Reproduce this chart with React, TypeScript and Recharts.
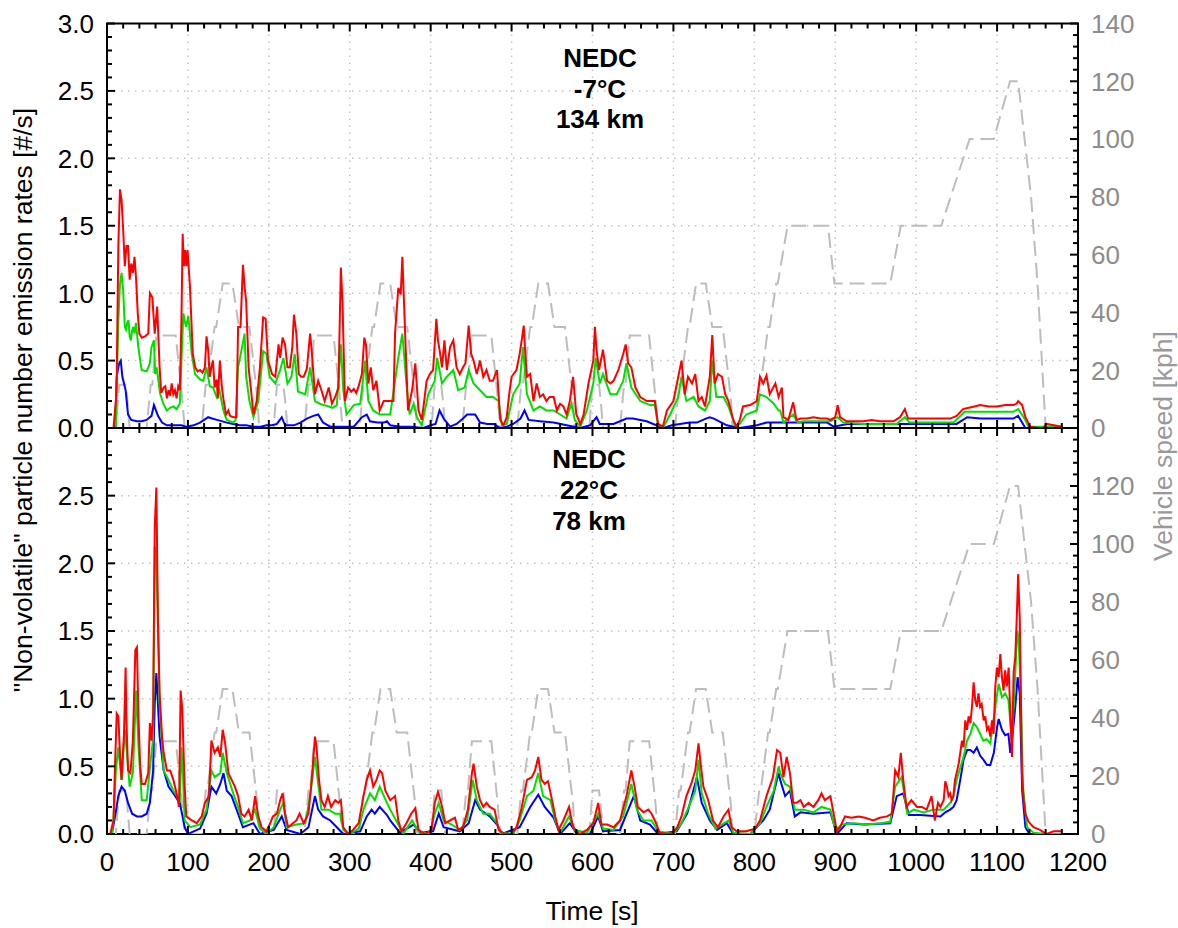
import React from 'react';
import { LineChart, Line, XAxis, YAxis, ReferenceLine, ReferenceArea } from 'recharts';

type Pt = [number, number];

// Emission rates, NEDC at -7 °C (time [s], rate [#/s])
const coldRed: Pt[] = [
  [0, 0], [8, 0], [11, 0.2], [12, 0.36], [14, 1.35], [16, 1.77], [18, 1.69], [20, 1.47], [22, 1.2], [24, 1.35],
  [26, 1.35], [28, 1.1], [30, 1.22], [32, 1.15], [34, 1.27], [36, 1.1], [38, 0.85], [40, 0.7], [43, 0.67], [47, 0.68],
  [51, 0.7], [53, 1.0], [56, 0.97], [59, 0.7], [62, 0.9], [65, 0.45], [67, 0.26], [70, 0.3], [72, 0.31], [74, 0.22],
  [76, 0.28], [78, 0.24], [80, 0.33], [82, 0.25], [84, 0.28], [86, 0.22], [88, 0.31], [90, 0.28], [92, 0.8], [93.5, 1.44],
  [95, 1.2], [96.5, 1.32], [98, 1.2], [99.5, 1.32], [102.5, 1.05], [106, 0.55], [109, 0.45], [112, 0.42], [115, 0.43], [118, 0.41],
  [121, 0.45], [123, 0.68], [125, 0.58], [127, 0.38], [129, 0.45], [131, 0.5], [133, 0.3], [135.5, 0.36], [137, 0.22], [139.5, 0.5],
  [142, 0.3], [144, 0.21], [147, 0.1], [150, 0.13], [152, 0.09], [156, 0.08], [160, 0.08], [162, 0.75],
  [165, 0.75], [168, 1.21], [170, 1.05], [172, 0.94], [175, 0.45], [178, 0.28], [181, 0.1], [185, 0.2], [189, 0.45], [193, 0.82],
  [196, 0.81], [199, 0.5], [204, 0.4], [208, 0.38], [212, 0.62], [214, 0.52], [217, 0.67], [220, 0.62], [223, 0.45], [226, 0.45],
  [229, 0.6], [231, 0.84], [234, 0.7], [237, 0.4], [240, 0.38], [243, 0.38], [247, 0.44], [251, 0.7], [253, 0.57], [257, 0.25],
  [261, 0.35], [265, 0.28], [269, 0.2], [274, 0.3], [278, 0.18], [282, 0.23], [286, 0.3], [289, 1.19], [291, 0.94], [294, 0.2],
  [298, 0.3], [302, 0.27], [305, 0.29], [308, 0.26], [311, 0.31], [315, 0.4], [318, 0.67], [320, 0.62], [323, 0.33], [326, 0.45],
  [329, 0.28], [333, 0.35], [337, 0.13], [342, 0.2], [346, 0.2], [350, 0.2], [354, 0.2], [356, 0.7], [360, 1.04], [363, 0.99],
  [365, 1.27], [367, 0.94], [370, 0.45], [372, 0.13], [377, 0.28], [381, 0.48], [385, 0.13], [389, 0.06], [392, 0.2], [395, 0.35],
  [399, 0.4], [403, 0.43], [407, 0.81], [409, 0.65], [411, 0.58], [414, 0.45], [417, 0.65], [420, 0.43], [424, 0.6], [428, 0.65],
  [432, 0.45], [436, 0.4], [440, 0.45], [443, 0.48], [447, 0.76], [450, 0.55], [453, 0.5], [457, 0.4], [461, 0.5], [465, 0.38],
  [469, 0.43], [473, 0.35], [477, 0.35], [482, 0.43], [486, 0.06], [490, 0.02], [494, 0.08], [497, 0.25], [500, 0.38], [506, 0.43],
  [510, 0.55], [513, 0.67], [515, 0.76], [517, 0.55], [519, 0.38], [523, 0.4], [527, 0.2], [531, 0.33], [535, 0.23], [539, 0.25],
  [543, 0.2], [547, 0.23], [552, 0.23], [556, 0.13], [560, 0.18], [564, 0.16], [568, 0.1], [572, 0.2], [576, 0.38], [580, 0.1],
  [585, 0.03], [589, 0.1], [595, 0.33], [601, 0.5], [603, 0.75], [605, 0.58], [608, 0.43], [613, 0.58], [618, 0.35], [622, 0.33],
  [626, 0.35], [632, 0.43], [638, 0.55], [641, 0.62], [644, 0.48], [648, 0.45], [653, 0.3], [659, 0.23], [667, 0.2], [673, 0.2],
  [677, 0.2], [681, 0.03], [687, 0.01], [692, 0.13], [700, 0.2], [706, 0.38], [710, 0.5], [714, 0.25], [718, 0.38], [723, 0.33],
  [727, 0.4], [731, 0.2], [735, 0.23], [739, 0.16], [745, 0.38], [748, 0.69], [751, 0.33], [755, 0.4], [760, 0.38], [764, 0.25],
  [768, 0.2], [774, 0.06], [778, 0.01], [782, 0.06], [786, 0.16], [795, 0.17], [803, 0.2], [807, 0.38], [811, 0.33], [815, 0.39],
  [819, 0.25], [826, 0.33], [830, 0.23], [834, 0.3], [836, 0.08], [842, 0.06], [848, 0.19], [852, 0.06], [857, 0.07], [865, 0.07],
  [873, 0.08], [882, 0.07], [890, 0.07], [894, 0.06], [900, 0.08], [903, 0.17], [906, 0.08], [914, 0.05], [925, 0.05], [935, 0.05],
  [945, 0.06], [955, 0.05], [965, 0.05], [972, 0.05], [980, 0.08], [986, 0.14], [990, 0.07], [1000, 0.07], [1010, 0.07], [1020, 0.07],
  [1030, 0.07], [1042, 0.07], [1050, 0.09], [1058, 0.14], [1065, 0.15], [1072, 0.16], [1079, 0.17], [1090, 0.16], [1100, 0.16], [1110, 0.17],
  [1120, 0.17], [1124, 0.18], [1126, 0.2], [1131, 0.17], [1135, 0.08], [1141, 0.01], [1150, 0], [1157, 0], [1161, 0.03], [1170, 0.02],
  [1180, 0.01],
];

const coldGreen: Pt[] = [
  [0, 0], [11, 0], [12, 0.3], [14, 0.8], [16, 1.07], [18, 1.15], [20, 1.02], [22, 0.75], [23.5, 0.73], [25, 0.78],
  [26.5, 0.8], [28, 0.68], [29.5, 0.65], [31, 0.72], [32.5, 0.75], [34, 0.7], [35.8, 0.78], [38.7, 0.6], [42.8, 0.43], [49, 0.42],
  [53, 0.48], [55, 0.6], [58, 0.65], [59.5, 0.4], [61.4, 0.45], [65.5, 0.26], [69.6, 0.18], [73.8, 0.13], [78, 0.15], [82, 0.16],
  [86, 0.14], [90, 0.18], [92, 0.5], [94.4, 0.85], [97.6, 0.75], [100.5, 0.83], [104.7, 0.55], [108.8, 0.4], [115, 0.36], [119, 0.35],
  [123, 0.45], [127, 0.31], [131, 0.3], [135.6, 0.23], [139, 0.28], [143.8, 0.13], [148, 0.06],
  [152, 0.05], [156, 0.04], [159, 0.06], [162, 0.45], [166, 0.57], [170, 0.7], [172, 0.38], [176, 0.2],
  [181, 0.08], [187, 0.2], [193, 0.57], [197, 0.55], [201, 0.38], [208, 0.33], [214, 0.43], [218, 0.52], [223, 0.33], [228, 0.38],
  [232, 0.55], [236, 0.27], [245, 0.25], [251, 0.45], [257, 0.2], [263, 0.18], [268, 0.17], [274, 0.16], [279, 0.15], [284, 0.17],
  [289, 0.62], [292, 0.28], [296, 0.1], [305, 0.17], [313, 0.18], [319, 0.5], [323, 0.2], [329, 0.13], [337, 0.1], [344, 0.1],
  [350, 0.1], [356, 0.35], [360, 0.52], [365, 0.7], [370, 0.33], [374, 0.1], [379, 0.18], [383, 0.08], [389, 0.02], [397, 0.25],
  [405, 0.35], [408, 0.52], [414, 0.33], [420, 0.38], [428, 0.43], [434, 0.28], [442, 0.3], [447, 0.43], [453, 0.33], [461, 0.28],
  [469, 0.23], [477, 0.23], [484, 0.2], [488, 0.02], [494, 0.03], [502, 0.25], [510, 0.33], [514, 0.6], [519, 0.25], [527, 0.13],
  [535, 0.16], [543, 0.13], [552, 0.13], [560, 0.1], [568, 0.07], [574, 0.18], [578, 0.06], [585, 0.01], [593, 0.13], [601, 0.33],
  [604, 0.52], [609, 0.33], [613, 0.4], [622, 0.25], [630, 0.25], [638, 0.35], [642, 0.48], [648, 0.3], [659, 0.2], [671, 0.17],
  [677, 0.17], [681, 0.02], [688, 0.01], [696, 0.1], [706, 0.23], [710, 0.38], [716, 0.2], [725, 0.23], [731, 0.16], [739, 0.13],
  [745, 0.2], [748, 0.5], [753, 0.23], [762, 0.23], [768, 0.16], [776, 0.02], [782, 0.03], [790, 0.1], [803, 0.13], [807, 0.25],
  [815, 0.23], [824, 0.18], [830, 0.13], [832, 0.13], [836, 0.04], [848, 0.1], [854, 0.04], [860, 0.05], [875, 0.05], [894, 0.05],
  [903, 0.08], [910, 0.04], [935, 0.03], [955, 0.03], [976, 0.03], [986, 0.08], [992, 0.04], [1010, 0.04], [1030, 0.04], [1046, 0.04],
  [1060, 0.12], [1079, 0.12], [1100, 0.12], [1120, 0.12], [1126, 0.14], [1133, 0.08], [1139, 0.01], [1160, 0.01], [1180, 0.01],
];

const coldBlue: Pt[] = [
  [0, 0], [10, 0], [12, 0.38], [15, 0.48], [17, 0.5], [19, 0.38], [23, 0.28], [26, 0.1], [30, 0.06], [37, 0.05],
  [43, 0.05], [49, 0.06], [55, 0.09], [58, 0.17], [63, 0.09], [68, 0.04], [74, 0.02], [84, 0.02], [92, 0.02], [98, 0.01],
  [107, 0.02], [115, 0.04], [120, 0.06], [125, 0.08], [130, 0.07], [136, 0.06], [148, 0.04], [156, 0.03], [164, 0.02], [172, 0.02],
  [181, 0.01], [190, 0.01], [197, 0.02], [204, 0.02], [210, 0.03], [216, 0.08], [220, 0.02], [231, 0.02], [239, 0.04], [247, 0.07],
  [255, 0.09], [261, 0.1], [267, 0.04], [276, 0.01], [288, 0.01], [305, 0.01], [315, 0.08], [321, 0.1], [325, 0.05], [334, 0.04],
  [342, 0.04], [346, 0.05], [350, 0.02], [362, 0.01], [375, 0.01], [391, 0], [400, 0.02], [406, 0.03], [411, 0.13], [416, 0.07],
  [424, 0.01], [432, 0.03], [440, 0.07], [445, 0.1], [455, 0.1], [461, 0.04], [470, 0.03], [478, 0.03], [486, 0], [494, 0.01],
  [502, 0.03], [511, 0.07], [516, 0.13], [521, 0.06], [535, 0.05], [552, 0.04], [568, 0.02], [585, 0], [597, 0.02], [605, 0.08],
  [609, 0.03], [626, 0.03], [642, 0.07], [650, 0.07], [659, 0.06], [667, 0.05], [675, 0.03], [688, 0], [698, 0.02], [708, 0.03],
  [720, 0.04], [729, 0.04], [740, 0.07], [745, 0.08], [750, 0.07], [766, 0.02], [782, 0], [803, 0.02], [815, 0.04], [832, 0.04],
  [850, 0.04], [870, 0.04], [890, 0.04], [898, 0.01], [915, 0.03], [940, 0.03], [972, 0.03], [990, 0.03], [1010, 0.03], [1030, 0.03],
  [1050, 0.03], [1063, 0.08], [1080, 0.07], [1100, 0.07], [1120, 0.07], [1126, 0.09], [1135, 0], [1180, 0],
];

// Emission rates, NEDC at 22 °C (time [s], rate [#/s])
const warmRed: Pt[] = [
  [0, 0], [4, 0], [8, 0.1], [10, 0.52], [12, 0.89], [14, 0.87], [16, 0.6], [18, 0.4], [21, 0.74], [23, 1.23],
  [24, 0.84], [26, 0.47], [29, 0.45], [32, 0.69], [35, 1.36], [37, 1.38], [39, 0.84], [41, 0.5], [43, 0.37], [47, 0.37],
  [51, 0.45], [53, 0.82], [55, 0.69], [57, 0.89], [59, 2.27], [61, 2.56], [63, 1.58], [65, 1.04], [68, 0.72], [70, 0.6],
  [74, 0.47], [78, 0.47], [82, 0.4], [86, 0.3], [89, 0.2], [91, 1.06], [93, 0.92], [96, 0.35], [98, 0.13], [105, 0.1],
  [111, 0.08], [117, 0.13], [121, 0.23], [126, 0.28], [129, 0.69], [133, 0.6], [137, 0.64], [140, 0.57], [143, 0.77], [146, 0.67],
  [150, 0.45], [154, 0.4], [158, 0.35], [162, 0.28], [166, 0.15], [170, 0.13], [175, 0.18], [179, 0.1], [183, 0.28], [187, 0.13],
  [191, 0.05], [197, 0.02], [201, 0.07], [205, 0.13], [210, 0.15], [214, 0.25], [217, 0.3], [220, 0.15], [224, 0.05], [228, 0.07],
  [234, 0.1], [238, 0.15], [243, 0.08], [249, 0.15], [253, 0.4], [257, 0.72], [259, 0.64], [262, 0.4], [265, 0.25], [269, 0.2],
  [273, 0.28], [277, 0.2], [282, 0.25], [286, 0.23], [289, 0.25], [292, 0.05], [298, 0], [304, 0.03], [311, 0.08], [317, 0.28],
  [321, 0.4], [325, 0.47], [329, 0.35], [333, 0.4], [337, 0.47], [340, 0.45], [344, 0.32], [350, 0.25], [356, 0.28], [360, 0.1],
  [364, 0.02], [370, 0.08], [376, 0.15], [381, 0.19], [385, 0.03], [393, 0], [401, 0.03], [405, 0.23], [409, 0.31], [413, 0.23],
  [418, 0.08], [424, 0.1], [430, 0.12], [434, 0.03], [440, 0.05], [446, 0.18], [451, 0.45], [453, 0.52], [457, 0.35], [461, 0.25],
  [465, 0.2], [469, 0.23], [473, 0.2], [479, 0.18], [484, 0.03], [492, 0], [500, 0], [506, 0.05], [512, 0.18], [519, 0.4],
  [525, 0.42], [529, 0.47], [533, 0.57], [537, 0.4], [541, 0.37], [545, 0.39], [549, 0.28], [554, 0.13], [558, 0.03], [564, 0.1],
  [571, 0.2], [576, 0.05], [584, 0], [593, 0.03], [601, 0.08], [607, 0.23], [611, 0.07], [618, 0.07], [626, 0.05], [634, 0.1],
  [642, 0.28], [648, 0.47], [652, 0.35], [656, 0.2], [663, 0.16], [669, 0.18], [673, 0.15], [677, 0.1], [683, 0.01], [696, 0],
  [704, 0.04], [710, 0.13], [716, 0.28], [722, 0.37], [727, 0.47], [731, 0.67], [734, 0.5], [737, 0.35], [743, 0.25], [749, 0.1],
  [755, 0.05], [762, 0.13], [768, 0.18], [772, 0.05], [778, 0.02], [790, 0.02], [801, 0.04], [807, 0.1], [815, 0.28], [823, 0.42],
  [828, 0.62], [832, 0.6], [836, 0.42], [840, 0.57], [844, 0.45], [848, 0.23], [852, 0.23], [857, 0.25], [861, 0.2], [867, 0.23],
  [873, 0.2], [879, 0.25], [883, 0.3], [887, 0.25], [894, 0.28], [898, 0.15], [902, 0.02], [906, 0.05], [912, 0.13], [920, 0.12],
  [929, 0.13], [937, 0.12], [947, 0.1], [955, 0.12], [964, 0.13], [970, 0.15], [974, 0.47], [978, 0.42], [981, 0.6], [984, 0.4],
  [988, 0.2], [994, 0.25], [1001, 0.2], [1007, 0.2], [1013, 0.18], [1019, 0.28], [1023, 0.1], [1027, 0.23], [1030, 0.2], [1034, 0.25],
  [1036, 0.39], [1038, 0.35], [1040, 0.28], [1042, 0.3], [1044, 0.25], [1046, 0.28], [1048, 0.4], [1050, 0.45], [1052.5, 0.52], [1054.5, 0.6],
  [1056.6, 0.69], [1058.6, 0.64], [1060.7, 0.84], [1062.8, 0.77], [1064.8, 0.87], [1067, 0.82], [1069, 0.94], [1071, 1.12], [1073, 0.99], [1075, 0.94],
  [1077, 1.04], [1079, 0.94], [1081, 0.96], [1083.4, 0.84], [1085.4, 0.87], [1087.5, 0.77], [1089.5, 0.79], [1091.6, 0.72], [1093.7, 0.84], [1095.7, 0.74],
  [1097.8, 1.09], [1099.8, 1.23], [1101.9, 1.16], [1104, 1.33], [1106, 1.16], [1108, 1.06], [1110, 1.21], [1112, 1.09], [1114.3, 1.23], [1116.3, 0.89],
  [1118.4, 0.57], [1120.4, 1.19], [1122.5, 1.31], [1124.5, 1.63], [1126, 1.92], [1128, 1.6], [1129, 1.2], [1130.7, 0.45], [1132.8, 0.25], [1134.9, 0.15],
  [1139, 0.09], [1145, 0.05], [1153, 0.03], [1161, 0], [1170, 0.02], [1180, 0.02],
];

const warmGreen: Pt[] = [
  [0, 0], [6, 0], [8, 0.1], [11, 0.47], [14, 0.64], [18, 0.4], [22, 0.77], [24, 0.64], [28, 0.35], [32, 0.45],
  [36, 1.06], [39, 0.64], [43, 0.25], [49, 0.25], [55, 0.6], [57, 0.7], [59, 2.12], [61, 2.07], [65, 0.96], [70, 0.47],
  [76, 0.4], [82, 0.32], [90, 0.25], [92, 0.64], [94, 0.42], [96, 0.1], [103, 0.05], [115, 0.07], [123, 0.18], [129, 0.47],
  [133, 0.42], [140, 0.45], [143, 0.6], [148, 0.45], [156, 0.3], [162, 0.2], [168, 0.08], [177, 0.1], [183, 0.18], [189, 0.04],
  [197, 0], [206, 0.05], [214, 0.18], [218, 0.23], [222, 0.05], [234, 0.07], [245, 0.08], [251, 0.28], [257, 0.57], [261, 0.37],
  [265, 0.18], [274, 0.18], [282, 0.15], [288, 0.15], [292, 0.03], [300, 0], [311, 0.04], [317, 0.18], [325, 0.3], [331, 0.25],
  [337, 0.35], [346, 0.23], [350, 0.18], [360, 0.07], [366, 0], [377, 0.1], [385, 0.02], [399, 0], [405, 0.15], [410, 0.23],
  [416, 0.1], [426, 0.07], [436, 0.03], [445, 0.1], [452, 0.4], [457, 0.25], [465, 0.15], [473, 0.15], [482, 0.08], [486, 0.01],
  [502, 0], [510, 0.1], [519, 0.28], [527, 0.32], [533, 0.45], [539, 0.28], [548, 0.25], [554, 0.1], [560, 0.01], [571, 0.13],
  [578, 0.03], [593, 0.01], [607, 0.15], [613, 0.04], [626, 0.03], [638, 0.13], [648, 0.37], [655, 0.18], [663, 0.1], [673, 0.1],
  [681, 0.02], [700, 0], [710, 0.08], [719, 0.2], [727, 0.32], [731, 0.55], [735, 0.3], [743, 0.15], [752, 0.04], [760, 0.07],
  [768, 0.1], [774, 0.01], [795, 0], [807, 0.08], [815, 0.2], [824, 0.32], [830, 0.5], [832, 0.45], [838, 0.37], [844, 0.35],
  [850, 0.18], [861, 0.18], [873, 0.16], [883, 0.2], [894, 0.18], [900, 0.03], [908, 0.07], [923, 0.08], [939, 0.07], [956, 0.08],
  [968, 0.09], [974, 0.35], [982, 0.42], [989, 0.15], [997, 0.18], [1009, 0.16], [1021, 0.18], [1034, 0.18], [1042, 0.23], [1046, 0.28],
  [1050, 0.4], [1054, 0.48], [1058.6, 0.57], [1063, 0.69], [1067, 0.74], [1071, 0.82], [1075, 0.79], [1079, 0.74], [1083, 0.69], [1087, 0.7],
  [1091.6, 0.67], [1097.8, 0.94], [1102, 1.11], [1106, 1.01], [1110, 1.04], [1114, 0.99], [1118.4, 0.69], [1122.5, 1.19], [1125, 1.5], [1126.6, 1.45],
  [1129, 1.09], [1132, 0.35], [1137, 0.05], [1145, 0.01], [1162, 0], [1180, 0],
];

const warmBlue: Pt[] = [
  [0, 0], [6, 0], [10, 0.13], [14, 0.28], [18, 0.35], [22, 0.32], [26, 0.23], [31, 0.15], [37, 0.13], [43, 0.13],
  [49, 0.15], [53, 0.23], [57, 0.47], [59, 0.96], [61, 1.19], [65, 0.72], [70, 0.47], [76, 0.35], [82, 0.3], [90, 0.23],
  [96, 0.05], [100, 0], [115, 0.04], [123, 0.15], [129, 0.35], [135, 0.3], [140, 0.37], [144, 0.45], [148, 0.32], [154, 0.28],
  [162, 0.15], [168, 0.05], [181, 0.08], [189, 0], [206, 0.03], [216, 0.13], [222, 0.03], [239, 0], [249, 0.05], [257, 0.28],
  [261, 0.18], [267, 0.13], [276, 0.1], [284, 0.05], [292, 0], [313, 0.02], [321, 0.13], [327, 0.18], [331, 0.15], [337, 0.2],
  [346, 0.14], [350, 0.1], [362, 0.01], [379, 0.07], [387, 0.01], [403, 0.02], [410, 0.15], [416, 0.05], [436, 0.02], [447, 0.08],
  [455, 0.25], [461, 0.18], [473, 0.13], [482, 0.07], [488, 0], [510, 0.05], [523, 0.2], [533, 0.29], [541, 0.2], [552, 0.12],
  [560, 0], [572, 0.08], [581, 0], [597, 0], [607, 0.13], [613, 0.02], [634, 0.03], [651, 0.28], [659, 0.1], [671, 0.07],
  [681, 0], [704, 0.02], [717, 0.15], [729, 0.42], [735, 0.23], [745, 0.1], [754, 0.03], [766, 0.08], [774, 0], [795, 0],
  [811, 0.1], [819, 0.18], [830, 0.45], [832, 0.4], [838, 0.28], [844, 0.32], [850, 0.13], [857, 0.16], [873, 0.15], [894, 0.16],
  [902, 0], [914, 0.08], [935, 0.07], [968, 0.08], [976, 0.28], [984, 0.3], [991, 0.14], [1005, 0.14], [1030, 0.13], [1036, 0.16],
  [1042, 0.18], [1046, 0.2], [1050, 0.25], [1054.5, 0.4], [1058.6, 0.55], [1063, 0.62], [1067, 0.62], [1071, 0.6], [1075, 0.64], [1079, 0.58],
  [1083, 0.55], [1087.5, 0.51], [1091.6, 0.51], [1096, 0.6], [1100, 0.79], [1102, 0.85], [1106, 0.77], [1110, 0.73], [1114, 0.74], [1116.3, 0.6],
  [1118.4, 0.69], [1122.5, 0.94], [1125.4, 1.16], [1128, 1.04], [1131, 0.32], [1135, 0.05], [1140, 0], [1180, 0],
];

// NEDC vehicle speed trace (time [s], speed [kph]): four ECE-15 cycles followed by the EUDC
const nedcSpeed: Pt[] = [
  [0, 0], [11, 0], [15, 15], [23, 15], [25, 10], [28, 0], [49, 0], [54, 15], [56, 15], [61, 32],
  [85, 32], [93, 10], [96, 0], [117, 0], [122, 15], [124, 15], [133, 35], [135, 35], [143, 50], [155, 50],
  [163, 35], [176, 35], [186, 10], [188, 0],
  [195, 0], [206, 0], [210, 15], [218, 15], [220, 10], [223, 0], [244, 0], [249, 15], [251, 15], [256, 32],
  [280, 32], [288, 10], [291, 0], [312, 0], [317, 15], [319, 15], [328, 35], [330, 35], [338, 50], [350, 50],
  [358, 35], [371, 35], [381, 10], [383, 0],
  [390, 0], [401, 0], [405, 15], [413, 15], [415, 10], [418, 0], [439, 0], [444, 15], [446, 15], [451, 32],
  [475, 32], [483, 10], [486, 0], [507, 0], [512, 15], [514, 15], [523, 35], [525, 35], [533, 50], [545, 50],
  [553, 35], [566, 35], [576, 10], [578, 0],
  [585, 0], [596, 0], [600, 15], [608, 15], [610, 10], [613, 0], [634, 0], [639, 15], [641, 15], [646, 32],
  [670, 32], [678, 10], [681, 0], [702, 0], [707, 15], [709, 15], [718, 35], [720, 35], [728, 50], [740, 50],
  [748, 35], [761, 35], [771, 10], [773, 0],
  [780, 0], [800, 0], [806, 15], [808, 15], [817, 35], [819, 35], [827, 50], [829, 50], [841, 70], [891, 70],
  [899, 50], [968, 50], [981, 70], [1031, 70], [1066, 100], [1096, 100], [1116, 120], [1126, 120], [1142, 80], [1150, 50],
  [1160, 0], [1180, 0],
];

// Axis tick values
const timeMajor = [0, 100, 200, 300, 400, 500, 600, 700, 800, 900, 1000, 1100, 1200];
const rateMajor = [0, 0.5, 1.0, 1.5, 2.0, 2.5, 3.0];
const speedMajor = [0, 20, 40, 60, 80, 100, 120, 140];
const timeTicks = Array.from({ length: 61 }, (_, i) => i * 20);
const rateTicks = Array.from({ length: 31 }, (_, i) => i / 10);
const speedTicks = Array.from({ length: 36 }, (_, i) => i * 4);
const timeGrid = timeMajor.slice(1, -1);
const rateGrid = rateMajor.slice(1, -1);

const FONT = '"Liberation Sans", Arial, Helvetica, sans-serif';
const SPEED_GREY = '#bdbdbd';
const LABEL_GREY = '#8c8c8c';

const toPoints = (pts: Pt[]) => pts.map(([t, v]) => ({ t, v }));

const isMajor = (v: number, list: number[]) => list.some((m) => Math.abs(m - v) < 1e-9);

function TimeTick(props: any) {
  const { x, y, payload, plotHeight, showLabel } = props;
  const v = payload.value as number;
  const major = isMajor(v, timeMajor);
  const len = major ? 8 : 5;
  const top = y - plotHeight;
  return (
    <g>
      <line x1={x} x2={x} y1={y} y2={y - len} stroke="#000" strokeWidth={2} />
      <line x1={x} x2={x} y1={top} y2={top + len} stroke="#000" strokeWidth={2} />
      {major && showLabel && (
        <text x={x} y={y + 37} textAnchor="middle" fontSize={26} fontFamily={FONT} fill="#000">
          {v}
        </text>
      )}
    </g>
  );
}

function RateTick(props: any) {
  const { x, y, payload, hideTop } = props;
  const v = payload.value as number;
  const major = isMajor(v, rateMajor);
  const len = major ? 8 : 5;
  const showLabel = major && !(hideTop && v === 3);
  return (
    <g>
      <line x1={x} x2={x + len} y1={y} y2={y} stroke="#000" strokeWidth={2} />
      {showLabel && (
        <text x={x - 13} y={y} dy="0.36em" textAnchor="end" fontSize={26} fontFamily={FONT} fill="#000">
          {v.toFixed(1)}
        </text>
      )}
    </g>
  );
}

function SpeedTick(props: any) {
  const { x, y, payload, hideTop } = props;
  const v = payload.value as number;
  const major = isMajor(v, speedMajor);
  const len = major ? 8 : 5;
  const showLabel = major && !(hideTop && v === 140);
  return (
    <g>
      <line x1={x} x2={x - len} y1={y} y2={y} stroke="#000" strokeWidth={2} />
      {showLabel && (
        <text x={x + 13} y={y} dy="0.36em" textAnchor="start" fontSize={26} fontFamily={FONT} fill={LABEL_GREY}>
          {v}
        </text>
      )}
    </g>
  );
}

type PanelProps = {
  red: Pt[];
  green: Pt[];
  blue: Pt[];
  height: number;
  marginTop: number;
  plotHeight: number;
  showTimeLabels: boolean;
  hideTopLabels: boolean;
};

function Panel({ red, green, blue, height, marginTop, plotHeight, showTimeLabels, hideTopLabels }: PanelProps) {
  return (
    <LineChart width={1178} height={height} margin={{ top: marginTop, right: 40, bottom: 2, left: 47 }}>
      <XAxis
        xAxisId="t"
        dataKey="t"
        type="number"
        domain={[0, 1200]}
        allowDataOverflow
        ticks={timeTicks}
        interval={0}
        tickSize={0}
        tickMargin={0}
        tickLine={false}
        axisLine={false}
        height={40}
        tick={(p: any) => <TimeTick {...p} plotHeight={plotHeight} showLabel={showTimeLabels} />}
      />
      <YAxis
        yAxisId="rate"
        orientation="left"
        type="number"
        domain={[0, 3]}
        allowDataOverflow
        ticks={rateTicks}
        interval={0}
        tickSize={0}
        tickMargin={0}
        tickLine={false}
        axisLine={false}
        width={60}
        tick={(p: any) => <RateTick {...p} hideTop={hideTopLabels} />}
      />
      <YAxis
        yAxisId="speed"
        orientation="right"
        type="number"
        domain={[0, 140]}
        allowDataOverflow
        ticks={speedTicks}
        interval={0}
        tickSize={0}
        tickMargin={0}
        tickLine={false}
        axisLine={false}
        width={60}
        tick={(p: any) => <SpeedTick {...p} hideTop={hideTopLabels} />}
      />
      {timeGrid.map((t) => (
        <ReferenceLine key={`gx${t}`} xAxisId="t" yAxisId="rate" x={t} stroke="#c4c4c4" strokeWidth={1.5} strokeDasharray="1.5 5.5" />
      ))}
      {rateGrid.map((r) => (
        <ReferenceLine key={`gy${r}`} xAxisId="t" yAxisId="rate" y={r} stroke="#c4c4c4" strokeWidth={1.5} strokeDasharray="1.5 5.5" />
      ))}
      <Line
        data={toPoints(nedcSpeed)}
        dataKey="v"
        xAxisId="t"
        yAxisId="speed"
        type="linear"
        stroke={SPEED_GREY}
        strokeWidth={2}
        strokeDasharray="15 7"
        dot={false}
        activeDot={false}
        isAnimationActive={false}
      />
      <Line data={toPoints(blue)} dataKey="v" xAxisId="t" yAxisId="rate" type="linear" stroke="#0000ff" strokeWidth={2} dot={false} activeDot={false} isAnimationActive={false} />
      <Line data={toPoints(green)} dataKey="v" xAxisId="t" yAxisId="rate" type="linear" stroke="#00e000" strokeWidth={2} dot={false} activeDot={false} isAnimationActive={false} />
      <Line data={toPoints(red)} dataKey="v" xAxisId="t" yAxisId="rate" type="linear" stroke="#ff0000" strokeWidth={2} dot={false} activeDot={false} isAnimationActive={false} />
      <ReferenceArea xAxisId="t" yAxisId="rate" x1={0} x2={1200} y1={0} y2={3} fill="none" fillOpacity={0} stroke="#000" strokeWidth={2} ifOverflow="visible" />
    </LineChart>
  );
}

const coldCaption = ['NEDC', '-7°C', '134 km'];
const warmCaption = ['NEDC', '22°C', '78 km'];

export default function App() {
  return (
    <div style={{ position: 'absolute', left: 0, top: 0, width: 1178, height: 928, background: '#fff', overflow: 'hidden' }}>
      <div style={{ position: 'absolute', left: 0, top: 0 }}>
        <Panel red={coldRed} green={coldGreen} blue={coldBlue} height={470} marginTop={23.5} plotHeight={404.5} showTimeLabels={false} hideTopLabels={false} />
      </div>
      <div style={{ position: 'absolute', left: 0, top: 418 }}>
        <Panel red={warmRed} green={warmGreen} blue={warmBlue} height={458} marginTop={10} plotHeight={406} showTimeLabels hideTopLabels />
      </div>
      <svg width={1178} height={928} style={{ position: 'absolute', left: 0, top: 0, pointerEvents: 'none' }}>
        <g fontFamily={FONT} fontWeight="bold" fontSize={26} fill="#000" textAnchor="middle">
          {coldCaption.map((s, i) => (
            <text key={`c${i}`} x={600} y={67 + i * 30.5}>{s}</text>
          ))}
          {warmCaption.map((s, i) => (
            <text key={`w${i}`} x={589} y={468 + i * 31}>{s}</text>
          ))}
        </g>
        <text x={592} y={920} textAnchor="middle" fontFamily={FONT} fontSize={26.5} fill="#000">Time [s]</text>
        <text transform="translate(32,400) rotate(-90)" textAnchor="middle" fontFamily={FONT} fontSize={26.5} fill="#000">
          "Non-volatile" particle number emission rates [#/s]
        </text>
        <text transform="translate(1172,446) rotate(-90)" textAnchor="middle" fontFamily={FONT} fontSize={26.5} fill="#999">
          Vehicle speed [kph]
        </text>
      </svg>
    </div>
  );
}
